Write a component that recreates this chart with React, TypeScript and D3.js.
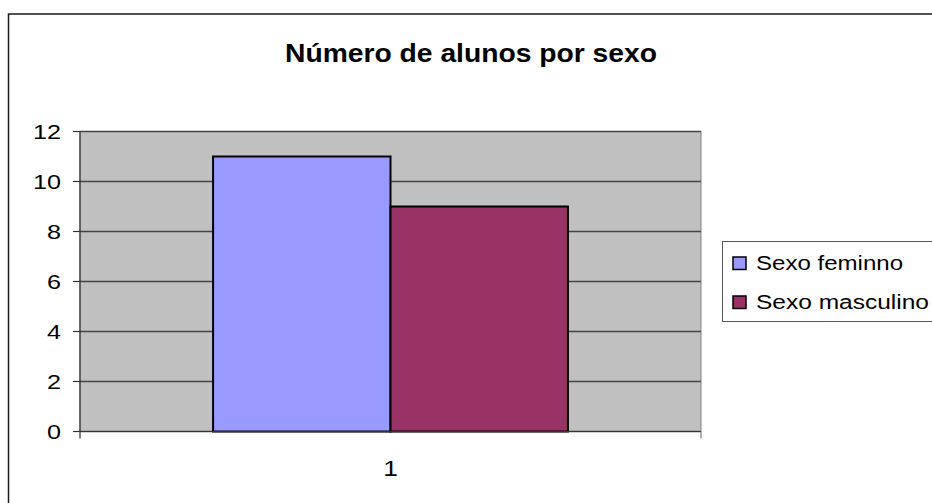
import React from "react";
import * as d3 from "d3";

const categories = ["1"];
const seriesNames = ["Sexo feminno", "Sexo masculino"];
const seriesValues = [[11], [9]];
const seriesColors = ["#9999FF", "#993366"];
const yTicks = [0, 2, 4, 6, 8, 10, 12];
const title = "Número de alunos por sexo";

const W = 932;
const H = 503;
const plot = { left: 80, right: 701, top: 131.5, bottom: 431.5 };
const FONT = "'Liberation Sans', Arial, sans-serif";
const STRETCH = 1.2; // wide glyph rendering of the axis and legend text
const LEGEND_WIDTHS = [147, 173];

// digit advance in Arial-metric fonts is 0.556em
const digitsLength = (s: string, fs: number) => s.length * 0.556 * fs * STRETCH;

export default function App() {
  const y = d3.scaleLinear().domain([0, 12]).range([plot.bottom, plot.top]);
  const x = d3.scaleBand().domain(categories).range([plot.left, plot.right]).padding(0);
  // Excel-style gap width of ~150% of a bar on the category band
  const bw = x.bandwidth() / (seriesNames.length + 1.5);
  const sub = d3
    .scaleBand()
    .domain(seriesNames)
    .range([0, bw * seriesNames.length]);

  return (
    <svg
      width={W}
      height={H}
      style={{ position: "absolute", left: 0, top: 0, background: "#fff" }}
      fontFamily={FONT}
    >
      {/* chart frame */}
      <rect x={8.5} y={14} width={940} height={500} fill="#fff" stroke="#1a1a1a" strokeWidth={1.5} />

      <text x={471} y={61.5} textAnchor="middle" fontSize={26} fontWeight="bold" fill="#000" textLength={372} lengthAdjust="spacingAndGlyphs">
        {title}
      </text>

      {/* plot area */}
      <rect x={plot.left} y={plot.top} width={plot.right - plot.left} height={plot.bottom - plot.top} fill="#C0C0C0" stroke="#808080" strokeWidth={1} />

      {yTicks.map((t) => (
        <line key={"g" + t} x1={plot.left} x2={plot.right} y1={y(t)} y2={y(t)} stroke="#444" strokeWidth={1.3} />
      ))}

      {categories.map((c, ci) =>
        seriesNames.map((s, si) => {
          const x0 = (x(c) as number) + x.bandwidth() / 2 - (bw * seriesNames.length) / 2 + (sub(s) as number);
          const v = seriesValues[si][ci];
          return (
            <rect
              key={c + s}
              x={x0}
              y={y(v)}
              width={sub.bandwidth()}
              height={y(0) - y(v)}
              fill={seriesColors[si]}
              stroke="#000"
              strokeWidth={2}
            />
          );
        })
      )}

      {/* axes */}
      <line x1={plot.left} x2={plot.left} y1={plot.top} y2={plot.bottom + 7} stroke="#333" strokeWidth={1.2} />
      <line x1={plot.left} x2={plot.right} y1={plot.bottom} y2={plot.bottom} stroke="#333" strokeWidth={1.2} />
      <line x1={plot.right} x2={plot.right} y1={plot.bottom} y2={plot.bottom + 7} stroke="#808080" strokeWidth={1.2} />
      {yTicks.map((t) => (
        <g key={"t" + t}>
          <line x1={plot.left - 7} x2={plot.left} y1={y(t)} y2={y(t)} stroke="#333" strokeWidth={1.2} />
          <text
            x={61}
            y={y(t) + 7.5}
            textAnchor="end"
            fontSize={21}
            fill="#000"
            textLength={digitsLength(String(t), 21)}
            lengthAdjust="spacingAndGlyphs"
          >
            {t}
          </text>
        </g>
      ))}
      {categories.map((c) => (
        <text
          key={"x" + c}
          x={(x(c) as number) + x.bandwidth() / 2}
          y={475.5}
          textAnchor="middle"
          fontSize={22}
          fill="#000"
          textLength={digitsLength(c, 22)}
          lengthAdjust="spacingAndGlyphs"
        >
          {c}
        </text>
      ))}

      {/* legend */}
      <rect x={722.5} y={241.5} width={230} height={80} fill="#fff" stroke="#555" strokeWidth={1} />
      {seriesNames.map((s, i) => (
        <g key={"l" + s} transform={`translate(0, ${i * 39})`}>
          <rect x={733} y={257} width={13} height={12.5} fill={seriesColors[i]} stroke="#000" strokeWidth={1.5} />
          <text x={756} y={269.5} fontSize={20} fill="#000" textLength={LEGEND_WIDTHS[i]} lengthAdjust="spacingAndGlyphs">
            {s}
          </text>
        </g>
      ))}
    </svg>
  );
}
